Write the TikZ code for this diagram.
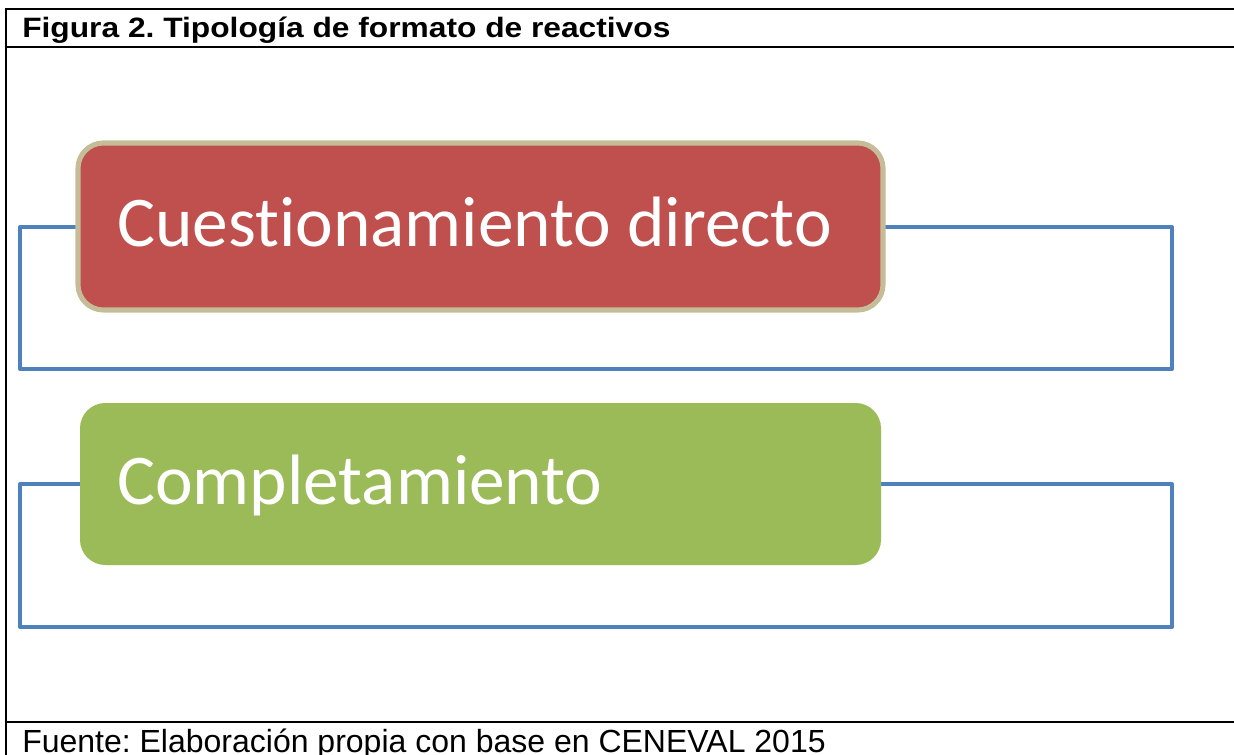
\documentclass[tikz,border=0pt]{standalone}
\usepackage{fontspec}
\setmainfont{Liberation Sans}
\newfontfamily\calib[Ligatures=NoCommon]{Carlito}
\definecolor{redfill}{HTML}{C0504D}
\definecolor{greenfill}{HTML}{9BBB59}
\definecolor{beige}{HTML}{C4BD97}
\definecolor{frameblue}{HTML}{4F81BD}
\frenchspacing
\begin{document}
\begin{tikzpicture}[x=0.75pt,y=-0.75pt,
  rule/.style={line width=2.2pt,black},
  frame/.style={line width=3pt,frameblue},
  itemtext/.style={anchor=base west,text=white,font=\calib\fontsize{53.5}{60}\selectfont,inner sep=0pt},
]
\useasboundingbox (0,0) rectangle (1234,755);
% table rules
\coordinate (tl) at (6,9);
\coordinate (tr) at (1234,9);
\coordinate (bl) at (6,755);
\draw[rule] (tr) -- (tl) -- (bl);
\coordinate (hl) at (6,47); \coordinate (hr) at (1234,47);
\draw[rule] (hl) -- (hr);
\coordinate (fl) at (6,722); \coordinate (fr) at (1234,722);
\draw[rule] (fl) -- (fr);
\node[anchor=base west,inner sep=0pt,font=\bfseries\fontsize{21}{24}\selectfont] (title) at (22,37.5) {\frenchspacing\scalebox{1.133}[1]{Figura 2. Tipología de formato de reactivos}};
\node[anchor=base west,inner sep=0pt,font=\fontsize{24}{28}\selectfont] (source) at (22,752) {Fuente: Elaboración propia con base en CENEVAL 2015};
% frames
\coordinate (f1a) at (20,227); \coordinate (f1b) at (1172,369);
\draw[frame,line join=round] (f1a) rectangle (f1b);
\coordinate (f2a) at (20,484); \coordinate (f2b) at (1172,627);
\draw[frame,line join=round] (f2a) rectangle (f2b);
% boxes
\draw[fill=redfill,draw=beige,line width=3.8pt,rounded corners=19pt] (78,143) rectangle (883,310);
\node[itemtext] (q1) at (117,247) {Cuestionamiento directo};
\fill[greenfill,rounded corners=19pt] (80,403) rectangle (881,565);
\node[itemtext] (q2) at (117,504) {Completamiento};
\end{tikzpicture}
\end{document}
